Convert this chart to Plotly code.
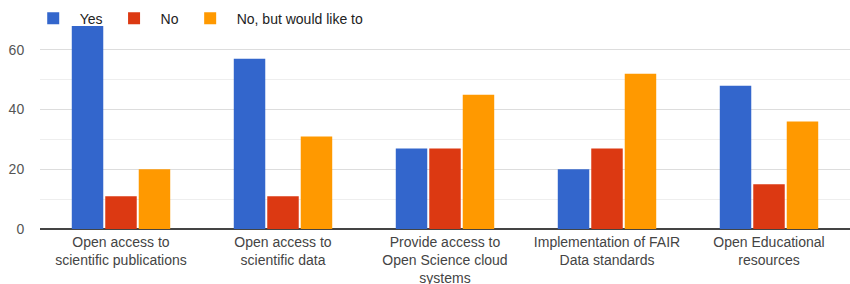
import plotly.graph_objects as go

categories = [
    "Open access to<br>scientific publications",
    "Open access to<br>scientific data",
    "Provide access to<br>Open Science cloud<br>systems",
    "Implementation of FAIR<br>Data standards",
    "Open Educational<br>resources",
]
series_names = ["Yes", "No", "No, but would like to"]
yes_values = [68, 57, 27, 20, 48]
no_values = [11, 11, 27, 27, 15]
like_values = [20, 31, 45, 52, 36]
colors = ["#3366cc", "#dc3912", "#ff9900"]
y_ticks = [0, 20, 40, 60]

fig = go.Figure()
for name, vals, col in zip(series_names, [yes_values, no_values, like_values], colors):
    fig.add_trace(go.Bar(name=name, x=categories, y=vals, marker_color=col,
                         marker_line_width=0))

fig.update_layout(
    width=850, height=284,
    margin=dict(l=40, r=0, t=20, b=55, autoexpand=False),
    paper_bgcolor="white", plot_bgcolor="white",
    barmode="group", bargap=0.38, bargroupgap=0.06,
    font=dict(family="Liberation Sans, Arial, sans-serif", size=14, color="#444"),
    legend=dict(orientation="h", x=-0.0164, xanchor="left", y=1.006, yanchor="middle",
                font=dict(size=14, color="#222"), bgcolor="rgba(255,255,255,0)",
                itemwidth=43),
    showlegend=True,
)
fig.update_xaxes(showgrid=False, showline=False, ticks="", automargin=False,
                 ticklabelstandoff=3,
                 tickfont=dict(size=14, color="#444"))
fig.update_yaxes(range=[0, 70], tickvals=y_ticks, showgrid=True, gridcolor="#dddddd",
                 gridwidth=1, zeroline=True, zerolinecolor="#444", zerolinewidth=1.5,
                 automargin=False,
                 ticks="outside", ticklen=12, tickcolor="rgba(0,0,0,0)",
                 tickfont=dict(size=14, color="#555"),
                 minor=dict(dtick=10, showgrid=True, gridcolor="#eeeeee", gridwidth=1))

fig.write_html("out.html", config={"displayModeBar": False},
               post_script="document.body.style.margin='0';")
